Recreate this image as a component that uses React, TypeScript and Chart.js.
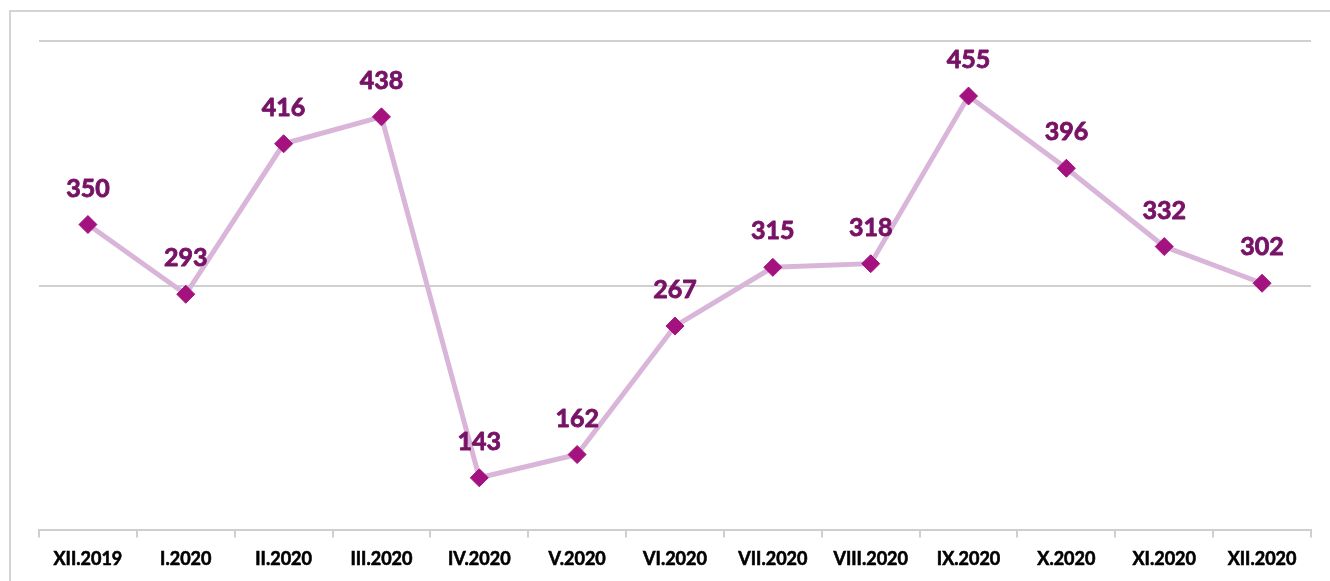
import React, { useEffect, useRef } from "react";
import { Chart, registerables } from "chart.js";

Chart.register(...registerables);

const categories = ["XII.2019", "I.2020", "II.2020", "III.2020", "IV.2020", "V.2020", "VI.2020", "VII.2020", "VIII.2020", "IX.2020", "X.2020", "XI.2020", "XII.2020"];
const values = [350, 293, 416, 438, 143, 162, 267, 315, 318, 455, 396, 332, 302];
const yMin = 100;
const yMax = 500;
const yStep = 200;

const FONT = "Lato, 'Open Sans', sans-serif";

const dataLabelPlugin = {
  id: "dataLabels",
  afterDatasetsDraw(chart: any) {
    const ctx = chart.ctx;
    const meta = chart.getDatasetMeta(0);
    const ds = chart.data.datasets[0];
    ctx.save();
    ctx.fillStyle = "#771366";
    ctx.strokeStyle = "#771366";
    ctx.lineWidth = 0.9;
    ctx.lineJoin = "round";
    ctx.font = `bold 25px ${FONT}`;
    ctx.textAlign = "center";
    ctx.textBaseline = "middle";
    meta.data.forEach((pt: any, i: number) => {
      ctx.fillText(String(ds.data[i]), pt.x, pt.y - 36);
      ctx.strokeText(String(ds.data[i]), pt.x, pt.y - 36);
    });
    ctx.restore();
  },
};

const boldTicksPlugin = {
  id: "boldTicks",
  afterDraw(chart: any) {
    const scale = chart.scales.x;
    const ctx = chart.ctx;
    ctx.save();
    ctx.strokeStyle = "#000";
    ctx.lineWidth = 0.6;
    ctx.font = `bold 18px ${FONT}`;
    ctx.textAlign = "center";
    ctx.textBaseline = "middle";
    const y = scale.top + 7 + 11 + 10.8;
    categories.forEach((c, i) => {
      ctx.strokeText(c, scale.getPixelForTick(i), y);
    });
    ctx.restore();
  },
};

export default function App() {
  const ref = useRef<HTMLCanvasElement | null>(null);
  useEffect(() => {
    if (!ref.current) return;
    const chart = new Chart(ref.current, {
      type: "line",
      data: {
        labels: categories,
        datasets: [
          {
            data: values,
            borderColor: "#D9B6D9",
            borderWidth: 5,
            pointStyle: "rectRot",
            pointRadius: 9,
            pointHoverRadius: 9,
            pointBackgroundColor: "#A3127F",
            pointBorderColor: "#A3127F",
            pointBorderWidth: 1,
            tension: 0,
          },
        ],
      },
      options: {
        animation: false,
        responsive: false,
        maintainAspectRatio: false,
        events: [],
        layout: { padding: { left: 39, right: 19, top: 41, bottom: 0 } },
        plugins: { legend: { display: false }, tooltip: { enabled: false } },
        scales: {
          x: {
            offset: true,
            grid: {
              offset: true,
              drawOnChartArea: false,
              drawTicks: true,
              tickLength: 7,
              color: "#CFCFCF",
              lineWidth: 2,
            },
            border: { display: true, color: "#CFCFCF", width: 2 },
            ticks: {
              color: "#000000",
              font: { family: FONT, size: 18, weight: "bold" },
              padding: 11,
              maxRotation: 0,
              autoSkip: false,
            },
          },
          y: {
            min: yMin,
            max: yMax,
            ticks: { display: false, stepSize: yStep },
            grid: { drawTicks: false, color: "#D0D0D0", lineWidth: 2 },
            border: { display: false },
          },
        },
      },
      plugins: [dataLabelPlugin, boldTicksPlugin],
    });
    return () => chart.destroy();
  }, []);
  return (
    <div style={{ position: "absolute", left: 0, top: 0, width: 1330, height: 581, background: "#fff", overflow: "hidden" }}>
      <div style={{ position: "absolute", left: 9, top: 10, width: 1400, height: 700, borderLeft: "2px solid #D4D4D4", borderTop: "2px solid #D4D4D4" }} />
      <canvas ref={ref} width={1330} height={581} style={{ position: "absolute", left: 0, top: 0 }} />
    </div>
  );
}
